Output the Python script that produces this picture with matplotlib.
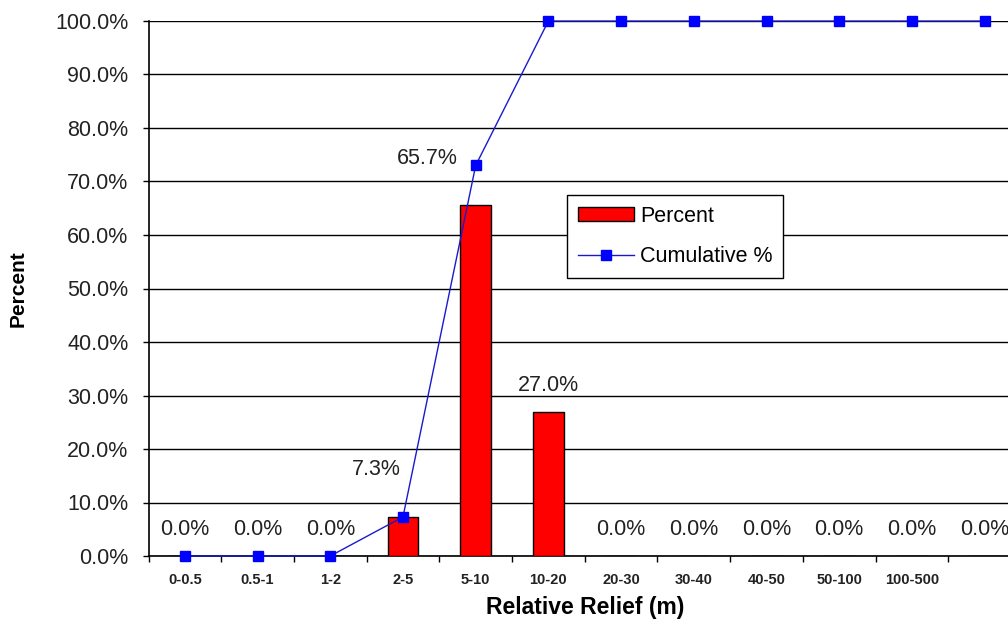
import matplotlib
matplotlib.use("Agg")
import matplotlib.pyplot as plt
import numpy as np
from matplotlib.ticker import FixedLocator, NullFormatter
from matplotlib.patches import Patch
from matplotlib.lines import Line2D

categories = ["0-0.5", "0.5-1", "1-2", "2-5", "5-10", "10-20", "20-30",
              "30-40", "40-50", "50-100", "100-500", ""]
percent = [0.0, 0.0, 0.0, 7.3, 65.7, 27.0, 0.0, 0.0, 0.0, 0.0, 0.0, 0.0]
cumulative = [0.0, 0.0, 0.0, 7.3, 73.0, 100.0, 100.0, 100.0, 100.0, 100.0, 100.0, 100.0]

plt.rcParams['font.family'] = ['Liberation Sans', 'DejaVu Sans']

fig = plt.figure(figsize=(10.08, 6.26), dpi=100)
W, H = 1008, 626
left, right, top, bottom = 148.5, 1021, 21, 556
ax = fig.add_axes([left / W, 1 - bottom / H, (right - left) / W, (bottom - top) / H])

x = np.arange(len(categories))
ax.bar(x, percent, width=0.42, color="#ff0000", edgecolor="black", linewidth=1, zorder=3)
ax.plot(x, cumulative, color="#1a1acc", linewidth=1, marker="s", markersize=7,
        markerfacecolor="#0000ff", markeredgecolor="#0000ff", zorder=4, clip_on=False)

ax.set_xlim(-0.5, len(categories) - 0.5)
ax.set_ylim(0, 100)
ax.set_yticks(np.arange(0, 101, 10))
ax.set_yticklabels([f"{v:.1f}%" for v in np.arange(0, 101, 10)], fontsize=15.5, color="#222222")
ax.yaxis.grid(True, color="black", linewidth=1, zorder=0)
ax.set_axisbelow(True)

ax.xaxis.set_major_locator(FixedLocator(np.arange(-0.5, len(categories), 1)))
ax.xaxis.set_major_formatter(NullFormatter())
ax.xaxis.set_minor_locator(FixedLocator(x))
ax.set_xticklabels(categories, minor=True, fontsize=10.5, fontweight="bold", color="#222222")
ax.tick_params(axis='x', which='minor', length=0, pad=12)
ax.tick_params(axis='x', which='major', length=4.5, width=1, direction='out')
ax.tick_params(axis='y', length=4.5, width=1, direction='out', pad=10)

for s in ['top', 'right']:
    ax.spines[s].set_visible(False)
ax.spines['left'].set_linewidth(1.2)
ax.spines['bottom'].set_linewidth(1.2)

# data labels
offsets = {3: (-19, 34), 4: (-35, 33)}
for i, v in enumerate(percent):
    dx, dy = offsets.get(i, (0, 19))
    ax.annotate(f"{v:.1f}%", (x[i], v), xytext=(dx, dy), textcoords="offset points",
                ha="center", va="center", fontsize=15.5, color="#222222", zorder=5,
                annotation_clip=False)

ax.set_xlabel("Relative Relief (m)", fontsize=16.5, fontweight="bold", labelpad=7)
ax.set_ylabel("Percent", fontsize=15, fontweight="bold", labelpad=20)

handles = [Patch(facecolor="#ff0000", edgecolor="black", linewidth=1),
           Line2D([], [], color="#1a1acc", linewidth=1, marker="s", markersize=7,
                  markerfacecolor="#0000ff", markeredgecolor="#0000ff")]
leg = ax.legend(handles, ["Percent", "Cumulative %"], loc="upper left",
                bbox_to_anchor=((567 - left) / (right - left), 1 - (195 - top) / (bottom - top)),
                fontsize=15.5, frameon=True, fancybox=False, edgecolor="black",
                framealpha=1, borderpad=0.5, handlelength=2.6, handleheight=0.6,
                handletextpad=0.3, labelspacing=0.9, borderaxespad=0)
leg.get_frame().set_linewidth(1)

fig.savefig("out.png", dpi=100)
